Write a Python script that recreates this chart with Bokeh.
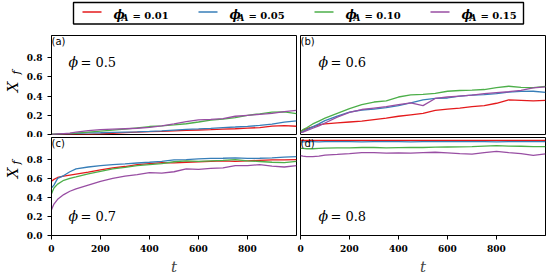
import numpy as np
from bokeh.plotting import figure
from bokeh.layouts import column, row
from bokeh.models import Range1d, FixedTicker, Label
from bokeh.core.properties import value
from bokeh.embed import file_html
from bokeh.resources import INLINE

# ---------------- data ----------------
t = [0, 10, 25, 50, 75, 100, 150, 200, 250, 300, 350, 400, 450, 500,
     550, 600, 650, 700, 750, 800, 850, 900, 950, 1000]

# panel (a)  phi = 0.5
a_red = [0, 0, 0, 0, 0, 0, 0, 0.005, 0.012, 0.02, 0.025, 0.03, 0.033, 0.038,
         0.042, 0.047, 0.05, 0.055, 0.06, 0.066, 0.072, 0.088, 0.092, 0.086]
a_blue = [0, 0.002, 0.004, 0.006, 0.008, 0.012, 0.016, 0.018, 0.022, 0.025, 0.028, 0.032,
          0.038, 0.046, 0.053, 0.058, 0.064, 0.072, 0.078, 0.085, 0.094, 0.108, 0.128, 0.142]
a_green = [0, 0.003, 0.006, 0.01, 0.012, 0.015, 0.025, 0.035, 0.045, 0.055, 0.07, 0.083,
           0.09, 0.1, 0.112, 0.13, 0.15, 0.16, 0.175, 0.2, 0.215, 0.232, 0.235, 0.218]
a_purple = [0, 0.002, 0.005, 0.01, 0.015, 0.025, 0.04, 0.05, 0.055, 0.06, 0.065, 0.075,
            0.09, 0.11, 0.133, 0.152, 0.158, 0.165, 0.19, 0.2, 0.21, 0.22, 0.238, 0.25]

# panel (b)  phi = 0.6
b_red = [0.03, 0.045, 0.06, 0.08, 0.1, 0.11, 0.12, 0.13, 0.14, 0.155, 0.17, 0.19,
         0.205, 0.22, 0.25, 0.265, 0.275, 0.29, 0.3, 0.325, 0.36, 0.355, 0.35, 0.356]
b_blue = [0.02, 0.03, 0.05, 0.08, 0.11, 0.145, 0.19, 0.232, 0.255, 0.265, 0.28, 0.3,
          0.328, 0.36, 0.375, 0.38, 0.4, 0.41, 0.415, 0.425, 0.44, 0.448, 0.45, 0.438]
b_green = [0.03, 0.05, 0.07, 0.11, 0.14, 0.17, 0.22, 0.27, 0.31, 0.338, 0.35, 0.39,
           0.413, 0.418, 0.428, 0.45, 0.458, 0.462, 0.468, 0.488, 0.502, 0.49, 0.488, 0.5]
b_purple = [0.02, 0.025, 0.04, 0.065, 0.09, 0.12, 0.18, 0.23, 0.26, 0.275, 0.29, 0.31,
            0.33, 0.3, 0.375, 0.39, 0.4, 0.41, 0.425, 0.435, 0.445, 0.46, 0.485, 0.495]

# panel (c)  phi = 0.7
c_red = [0.57, 0.59, 0.61, 0.625, 0.635, 0.645, 0.665, 0.69, 0.71, 0.725, 0.745, 0.755,
         0.765, 0.764, 0.77, 0.775, 0.78, 0.785, 0.78, 0.785, 0.79, 0.795, 0.795, 0.798]
c_blue = [0.5, 0.53, 0.6, 0.63, 0.67, 0.7, 0.72, 0.735, 0.745, 0.752, 0.762, 0.77,
          0.78, 0.795, 0.798, 0.805, 0.81, 0.812, 0.815, 0.81, 0.812, 0.815, 0.823, 0.83]
c_green = [0.44, 0.5, 0.54, 0.58, 0.6, 0.615, 0.648, 0.675, 0.7, 0.715, 0.735, 0.745,
           0.755, 0.775, 0.785, 0.78, 0.785, 0.79, 0.798, 0.785, 0.778, 0.77, 0.765, 0.778]
c_purple = [0.27, 0.33, 0.38, 0.43, 0.465, 0.49, 0.53, 0.57, 0.6, 0.625, 0.64, 0.66,
            0.655, 0.67, 0.7, 0.695, 0.705, 0.71, 0.735, 0.735, 0.745, 0.73, 0.72, 0.735]

# panel (d)  phi = 0.8
d_red = [1.0] * 24
d_blue = [0.985, 0.985, 0.986, 0.986, 0.985, 0.986, 0.987, 0.986, 0.985, 0.986, 0.987, 0.986,
          0.985, 0.986, 0.987, 0.986, 0.986, 0.987, 0.986, 0.985, 0.986, 0.987, 0.986, 0.986]
d_green = [0.915, 0.915, 0.912, 0.912, 0.915, 0.918, 0.92, 0.922, 0.925, 0.925, 0.922, 0.924,
           0.926, 0.925, 0.928, 0.93, 0.932, 0.935, 0.94, 0.945, 0.94, 0.938, 0.935, 0.935]
d_purple = [0.84, 0.835, 0.83, 0.828, 0.835, 0.845, 0.852, 0.86, 0.87, 0.872, 0.865, 0.868,
            0.865, 0.87, 0.875, 0.868, 0.86, 0.855, 0.872, 0.885, 0.87, 0.86, 0.842, 0.857]

phiA_labels = ["0.01", "0.05", "0.10", "0.15"]
colors = ["#e41a1c", "#377eb8", "#4daf4a", "#984ea3"]
panel_tags = ["(a)", "(b)", "(c)", "(d)"]
panel_phi = ["0.5", "0.6", "0.7", "0.8"]
x_ticks = [0, 200, 400, 600, 800]
y_ticks = [0, 0.2, 0.4, 0.6, 0.8]

panels = [
    [a_red, a_blue, a_green, a_purple],
    [b_red, b_blue, b_green, b_purple],
    [c_red, c_blue, c_green, c_purple],
    [d_red, d_blue, d_green, d_purple],
]

SERIF = "DejaVu Serif"
YMAX = 1.03
STRIP_W = 23


def style_axis(ax):
    ax.major_tick_out = 4
    ax.major_tick_in = 0
    ax.minor_tick_line_color = None
    ax.axis_line_color = "black"
    ax.major_tick_line_color = "black"
    ax.major_label_text_font = SERIF
    ax.major_label_text_font_style = "bold"
    ax.major_label_text_font_size = "9px"
    ax.major_label_text_color = "black"
    ax.major_label_standoff = 5


def make_panel(idx, left_axis, bottom_axis, fh, mb_left, mb_right, mb_top, mb_bottom, phi_y, phi_x):
    p = figure(frame_width=245, frame_height=fh,
               x_range=Range1d(0, 1000), y_range=Range1d(0, YMAX),
               output_backend="svg", toolbar_location=None,
               x_axis_location="below" if bottom_axis else None,
               y_axis_location="left" if left_axis else None,
               min_border_left=mb_left, min_border_right=mb_right,
               min_border_top=mb_top, min_border_bottom=mb_bottom)
    p.grid.visible = False
    p.outline_line_color = "black"
    p.outline_line_width = 1
    p.outline_line_alpha = 1
    p.background_fill_color = "white"
    if left_axis:
        style_axis(p.yaxis[0])
        p.yaxis[0].ticker = FixedTicker(ticks=y_ticks)
        p.yaxis[0].major_label_overrides = {v: f"{v:.1f}" for v in y_ticks}
    if bottom_axis:
        style_axis(p.xaxis[0])
        p.xaxis[0].ticker = FixedTicker(ticks=x_ticks)
        p.xaxis[0].axis_label = "t"
        p.xaxis[0].axis_label_text_font = SERIF
        p.xaxis[0].axis_label_text_font_style = "italic"
        p.xaxis[0].axis_label_text_font_size = "15px"
        p.xaxis[0].axis_label_standoff = 3

    for s, c in zip(panels[idx], colors):
        p.line(t, s, color=c, line_width=1.3)

    p.add_layout(Label(x=0, y=YMAX, text=panel_tags[idx], text_baseline="top",
                       text_font="DejaVu Sans", text_font_size="10px",
                       text_color="black"))
    p.add_layout(Label(x=phi_x, y=phi_y, text="\u03d5", text_baseline="alphabetic",
                       text_font=SERIF, text_font_style="italic", text_font_size="14px",
                       text_color="black"))
    p.add_layout(Label(x=phi_x, y=phi_y, x_offset=12, text="= " + panel_phi[idx],
                       text_baseline="alphabetic", text_font=SERIF,
                       text_font_size="13px", text_color="black"))
    return p


def ylabel_strip(height, top, x_center_y):
    # narrow strip left of the panel holding the rotated "X_f" axis title
    s = figure(width=STRIP_W, height=height, x_range=Range1d(0, STRIP_W),
               y_range=Range1d(top + height, top),
               output_backend="svg", toolbar_location=None, min_border=0,
               x_axis_location=None, y_axis_location=None)
    s.grid.visible = False
    s.outline_line_color = None
    s.text(x=[12], y=[x_center_y], text=["X"], angle=np.pi / 2,
           text_align="center", text_baseline="middle",
           text_font=value(SERIF), text_font_style="italic", text_font_size="15px",
           text_color="black")
    s.text(x=[15.5], y=[x_center_y - 15], text=["f"], angle=np.pi / 2,
           text_align="center", text_baseline="middle",
           text_font=value(SERIF), text_font_style="italic", text_font_size="11px",
           text_color="black")
    return s


# layout origin is the page's top-left; left frames at x 51..296, right at 300..545
fa = make_panel(0, True, False, 99, 51 - STRIP_W, 1, 1, 3, 0.75, 69)
fb = make_panel(1, False, False, 99, 3, 2, 1, 3, 0.75, 73)
fc = make_panel(2, True, True, 98, 51 - STRIP_W, 1, 0, 39, 0.2, 69)
fd = make_panel(3, False, True, 98, 3, 2, 0, 39, 0.2, 73)
sa = ylabel_strip(103, 34, 87.5)
sc = ylabel_strip(137, 137, 188.5)

# ---------------- legend strip (data units == page pixels) ----------------
leg = figure(width=547, height=34, x_range=Range1d(0, 547), y_range=Range1d(34, 0),
             output_backend="svg", toolbar_location=None, min_border=0,
             x_axis_location=None, y_axis_location=None)
leg.grid.visible = False
leg.outline_line_color = None
leg.quad(left=73, right=523, top=2, bottom=23.5, fill_color=None,
         line_color="black", line_width=1.4)
step = 116
lx0 = [82 + step * i for i in range(len(phiA_labels))]
leg.segment(x0=lx0, x1=[x + 19 for x in lx0], y0=[11.5] * 4, y1=[11.5] * 4,
            line_color=colors, line_width=1.5)
leg.text(x=[x + 31 for x in lx0], y=[14.5] * 4, text=["\u03d5"] * 4,
         text_font=value(SERIF), text_font_style="bold italic", text_font_size="12px",
         text_baseline="alphabetic", text_align="left", text_color="black")
leg.text(x=[x + 39 for x in lx0], y=[17] * 4, text=["A"] * 4,
         text_font=value(SERIF), text_font_style="bold italic", text_font_size="9px",
         text_baseline="alphabetic", text_align="left", text_color="black")
leg.text(x=[x + 50 for x in lx0], y=[14.5] * 4, text=["= " + s for s in phiA_labels],
         text_font=value(SERIF), text_font_style="bold", text_font_size="10px",
         text_baseline="alphabetic", text_align="left", text_color="black")

root = column(leg, row(sa, fa, fb, spacing=0), row(sc, fc, fd, spacing=0), spacing=0)

open("out.html", "w").write(file_html(root, INLINE))
